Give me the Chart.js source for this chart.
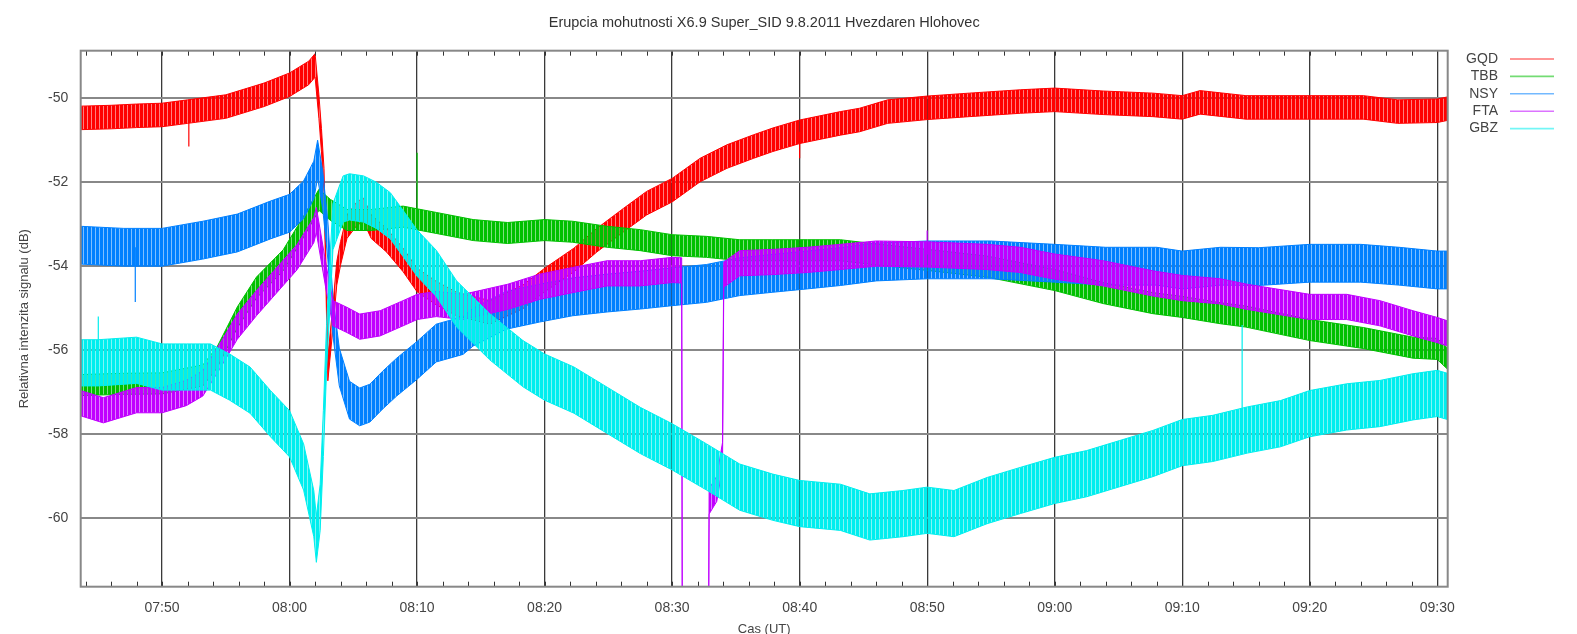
<!DOCTYPE html>
<html>
<head>
<meta charset="utf-8">
<title>Erupcia mohutnosti X6.9 Super_SID 9.8.2011</title>
<script src="https://cdn.jsdelivr.net/npm/chart.js@4.4.1/dist/chart.umd.min.js"></script>
<style>
  html, body { margin: 0; padding: 0; background: #fff; }
  #wrap { width: 1577px; height: 634px; }
</style>
</head>
<body>
<div id="wrap"><canvas id="sid" width="1577" height="634"></canvas></div>
<script>
// time = minutes after 07:00 UT, values in dB
var gqdTime = [43.6, 46, 48, 50, 52, 55, 58, 60, 61.5, 62.0, 62.3, 62.5, 62.7, 63.0, 63.4, 63.7, 64.0, 64.5, 65.3, 65.8, 66.4, 67.6, 68.9, 70.0, 71.5, 73.1, 75.7, 78.3, 80.0, 82.3, 84.1, 86.2, 88.0, 90.0, 92.2, 94.3, 96.4, 97.9, 100.0, 103.2, 104.7, 106.9, 110.0, 113.3, 117.3, 120.0, 123.8, 127.7, 130.0, 131.4, 135.0, 140.0, 144.2, 146.9, 150.0, 150.8];
var gqdDb = [-50.47, -50.45, -50.42, -50.40, -50.32, -50.2, -49.92, -49.68, -49.4, -49.22, -50.2, -51.0, -51.95, -56.45, -55.2, -54.17, -53.69, -53.06, -52.74, -52.66, -53.06, -53.38, -53.85, -54.33, -54.64, -54.9, -55.1, -54.73, -54.33, -53.85, -53.38, -52.9, -52.5, -52.19, -51.71, -51.39, -51.15, -50.99, -50.8, -50.6, -50.52, -50.32, -50.23, -50.16, -50.08, -50.04, -50.11, -50.16, -50.22, -50.1, -50.22, -50.22, -50.22, -50.32, -50.3, -50.25];

var tbbTime = [43.6, 47, 50, 53.2, 54.3, 55.9, 57.4, 59.5, 61.1, 62.3, 63.2, 64.5, 66.4, 68.9, 71.5, 74.4, 77.1, 80.0, 82.2, 84.9, 87.5, 90.0, 92.7, 95.3, 97.9, 100.6, 103.2, 106.0, 110.0, 114.7, 120.0, 123.8, 127.7, 130.0, 133.0, 135.0, 140.0, 144.2, 148.1, 150.0, 150.8];
var tbbDb = [-56.83, -56.8, -56.79, -56.6, -56.18, -55.22, -54.51, -53.86, -53.06, -52.42, -52.66, -52.9, -52.9, -52.82, -52.97, -53.14, -53.21, -53.14, -53.18, -53.3, -53.38, -53.5, -53.54, -53.62, -53.62, -53.62, -53.62, -53.72, -53.85, -54.01, -54.33, -54.64, -54.88, -54.97, -55.12, -55.2, -55.52, -55.71, -55.94, -55.97, -56.2];

var nsyTime = [43.6, 47, 50, 53.2, 55.9, 58.5, 60.0, 61.1, 61.9, 62.2, 62.6, 63.0, 63.4, 63.9, 64.7, 65.5, 66.3, 67.3, 68.4, 70.0, 71.5, 73.6, 74.4, 77.0, 79.6, 82.2, 84.9, 87.5, 90.0, 92.7, 95.3, 97.9, 100.6, 103.2, 106.0, 110.0, 115.0, 120.0, 124.0, 128.0, 130.0, 133.0, 136.0, 140.0, 144.0, 147.0, 150.0, 150.8];
var nsyDb = [-53.5, -53.55, -53.55, -53.38, -53.21, -52.9, -52.74, -52.42, -51.95, -51.45, -52.19, -53.38, -55.2, -56.4, -57.19, -57.35, -57.26, -56.95, -56.64, -56.24, -55.83, -55.65, -55.45, -55.05, -54.88, -54.73, -54.64, -54.57, -54.49, -54.41, -54.25, -54.17, -54.09, -54.01, -53.9, -53.85, -53.85, -53.93, -54.0, -54.0, -54.09, -54.0, -54.01, -53.93, -53.93, -54.0, -54.09, -54.09];

var ftaTime = [43.6, 45.4, 48.0, 50.0, 51.9, 53.2, 54.5, 55.9, 57.4, 59.0, 60.6, 61.9, 62.1, 62.9, 63.4, 64.5, 65.5, 67.1, 68.9, 70.0, 71.5, 73.6, 77.1, 79.6, 82.2, 84.9, 87.5, 90.0, 90.75, 90.8, 92.85, 92.9, 93.5, 93.95, 94.05, 95.3, 97.9, 100.6, 103.2, 106.0, 110.0, 114.7, 117.3, 120.0, 123.8, 127.7, 130.0, 133.0, 135.1, 140.0, 142.9, 145.5, 148.1, 150.0, 150.8];
var ftaDb = [-57.26, -57.43, -57.19, -57.19, -57.02, -56.79, -56.16, -55.44, -54.88, -54.33, -53.78, -53.14, -52.9, -54.33, -55.12, -55.28, -55.44, -55.36, -55.12, -54.97, -54.9, -54.97, -54.73, -54.49, -54.33, -54.17, -54.17, -54.09, -54.1, -63.5, -63.5, -59.6, -59.3, -58.5, -54.2, -53.93, -53.9, -53.85, -53.78, -53.7, -53.72, -53.78, -53.85, -54.01, -54.17, -54.41, -54.52, -54.6, -54.73, -54.97, -54.97, -55.12, -55.36, -55.52, -55.6];

var gbzTime = [43.6, 45.0, 48.0, 50.0, 51.9, 53.8, 55.3, 56.9, 58.5, 60.0, 61.1, 61.9, 62.1, 62.4, 62.65, 62.9, 63.4, 64.2, 64.7, 65.8, 66.8, 67.9, 68.9, 70.0, 71.5, 73.1, 75.7, 78.3, 80.0, 82.3, 84.9, 87.5, 90.0, 92.7, 95.3, 97.9, 100.0, 103.2, 105.5, 108.1, 110.0, 112.1, 114.7, 117.3, 120.0, 122.5, 125.1, 127.7, 130.0, 132.4, 135.1, 137.7, 140.0, 142.9, 145.5, 148.1, 150.0, 150.8];
var gbzDb = [-56.3, -56.3, -56.24, -56.4, -56.4, -56.4, -56.64, -56.95, -57.51, -57.99, -58.78, -59.89, -60.5, -59.74, -57.98, -55.94, -53.06, -52.4, -52.35, -52.4, -52.55, -52.8, -53.22, -53.69, -54.17, -54.9, -55.68, -56.32, -56.64, -56.95, -57.43, -57.91, -58.3, -58.78, -59.26, -59.5, -59.65, -59.74, -59.97, -59.89, -59.81, -59.89, -59.58, -59.34, -59.1, -58.94, -58.7, -58.46, -58.2, -58.1, -57.9, -57.75, -57.51, -57.35, -57.27, -57.11, -57.03, -57.1];

// half width of the noise band of each receiver, dB
var gqdNoise = 0.28, tbbNoise = 0.25, nsyNoise = 0.45, ftaNoise = 0.3, gbzNoise = 0.55;

// single spikes: [time, from dB, to dB]
var gqdSpikes = [[52.1, -50.35, -51.15], [100.0, -50.8, -51.43]];
var tbbSpikes = [[70.0, -52.9, -51.3]];
var nsySpikes = [[47.9, -53.55, -54.85]];
var ftaSpikes = [[110.0, -53.72, -53.15]];
var gbzSpikes = [[45.0, -56.3, -55.2], [134.7, -57.95, -55.4]];

var stations = ['GQD', 'TBB', 'NSY', 'FTA', 'GBZ'];
var colors = ['#ff0000', '#00c000', '#0080ff', '#c000ff', '#00eeee'];

var yTicks = [-60, -58, -56, -54, -52, -50];
var xMin = 43.62, xMax = 150.82, yMin = -61.63, yMax = -48.87;

var series = [
	{t: gqdTime, v: gqdDb, n: gqdNoise, s: gqdSpikes},
	{t: tbbTime, v: tbbDb, n: tbbNoise, s: tbbSpikes},
	{t: nsyTime, v: nsyDb, n: nsyNoise, s: nsySpikes},
	{t: ftaTime, v: ftaDb, n: ftaNoise, s: ftaSpikes},
	{t: gbzTime, v: gbzDb, n: gbzNoise, s: gbzSpikes}
];

function rgba(hex, a) {
	var r = parseInt(hex.substr(1, 2), 16), g = parseInt(hex.substr(3, 2), 16), b = parseInt(hex.substr(5, 2), 16);
	return 'rgba(' + r + ',' + g + ',' + b + ',' + a + ')';
}

// dense vertical hairline texture so the band reads like a noisy trace
function stripes(hex) {
	var c = document.createElement('canvas');
	c.width = 4; c.height = 1;
	var g = c.getContext('2d');
	g.fillStyle = hex; g.fillRect(0, 0, 3, 1);
	g.fillStyle = rgba(hex, 0.5); g.fillRect(3, 0, 1, 1);
	return g.createPattern(c, 'repeat');
}

function hhmm(v) {
	var h = 7 + Math.floor(v / 60), m = Math.round(v % 60);
	return (h < 10 ? '0' : '') + h + ':' + (m < 10 ? '0' : '') + m;
}

var FONT = '"Liberation Sans", Arial, sans-serif';

/* each receiver = noise band (upper line filled down to lower line) + its spikes */
var datasets = [];
series.forEach(function(sr, k) {
	var col = colors[k];
	var ord = 10 - k; // later stations are drawn on top, like gnuplot does
	datasets.push({
		label: stations[k],
		data: sr.t.map(function(t, i) { return {x: t, y: sr.v[i] + sr.n}; }),
		borderColor: col, borderWidth: 1, backgroundColor: stripes(col),
		fill: '+1', order: ord
	});
	datasets.push({
		label: stations[k] + '_low',
		data: sr.t.map(function(t, i) { return {x: t, y: sr.v[i] - sr.n}; }),
		borderColor: col, borderWidth: 1, fill: false, order: ord
	});
	var sp = [];
	sr.s.forEach(function(p) {
		sp.push({x: p[0], y: p[1]}, {x: p[0], y: p[2]}, {x: p[0], y: null});
	});
	datasets.push({
		label: stations[k] + '_spk', data: sp,
		borderColor: col, borderWidth: 1.2, fill: false, spanGaps: false, order: ord
	});
});

// inward minor ticks every 2 min, frame and the legend on the right
var decor = {
	id: 'decor',
	afterDraw: function(chart) {
		var ctx = chart.ctx, a = chart.chartArea, xs = chart.scales.x;
		ctx.save();
		ctx.strokeStyle = '#333';
		ctx.lineWidth = 1;
		ctx.beginPath();
		for (var m = 44; m <= 150; m += 2) {
			var px = Math.round(xs.getPixelForValue(m)) + 0.5;
			ctx.moveTo(px, a.top); ctx.lineTo(px, a.top + 5);
			ctx.moveTo(px, a.bottom); ctx.lineTo(px, a.bottom - 5);
		}
		ctx.stroke();
		ctx.strokeStyle = '#888';
		ctx.lineWidth = 2;
		ctx.strokeRect(a.left, a.top, a.right - a.left, a.bottom - a.top);

		ctx.font = '14px ' + FONT;
		ctx.textAlign = 'right';
		ctx.textBaseline = 'middle';
		stations.forEach(function(name, i) {
			var y = 59 + i * 17.4;
			ctx.fillStyle = '#444';
			ctx.fillText(name, 1498, y);
			ctx.strokeStyle = rgba(colors[i], 0.55);
			ctx.lineWidth = 1.6;
			ctx.beginPath(); ctx.moveTo(1510, y); ctx.lineTo(1554, y); ctx.stroke();
		});
		ctx.restore();
	}
};

var chart = new Chart(document.getElementById('sid'), {
	type: 'line',
	data: {datasets: datasets},
	options: {
		responsive: false,
		devicePixelRatio: 1,
		animation: false,
		events: [],
		layout: {padding: {left: 0, right: 129.3, top: 0, bottom: 0}},
		elements: {point: {radius: 0}, line: {tension: 0}},
		plugins: {
			legend: {display: false},
			tooltip: {enabled: false},
			title: {
				display: true, fullSize: false,
				text: 'Erupcia mohutnosti X6.9 Super_SID 9.8.2011 Hvezdaren Hlohovec',
				color: '#333', font: {family: FONT, size: 14.5, weight: 'normal'},
				padding: {top: 14, bottom: 19.3}
			},
			filler: {propagate: false}
		},
		scales: {
			x: {
				type: 'linear', min: xMin, max: xMax,
				afterFit: function(s) { s.height = 47.3; },
				ticks: {stepSize: 10, includeBounds: false, padding: 13, color: '#444', maxRotation: 0,
					font: {family: FONT, size: 14}, callback: function(v) { return hhmm(v); }},
				grid: {color: '#3a3a3a', lineWidth: 1.3, drawTicks: false},
				border: {display: false},
				title: {display: true, text: 'Cas (UT)', color: '#444', font: {family: FONT, size: 13}, padding: {top: 0, bottom: -3}}
			},
			y: {
				type: 'linear', min: yMin, max: yMax,
				afterFit: function(s) { s.width = 80.7; },
				afterBuildTicks: function(s) { s.ticks = yTicks.map(function(v) { return {value: v}; }); },
				ticks: {padding: 12.5, color: '#444', font: {family: FONT, size: 14}},
				grid: {color: '#888', lineWidth: 2, drawTicks: false},
				border: {display: false},
				title: {display: true, text: 'Relativna intenzita signalu (dB)', color: '#444', font: {family: FONT, size: 13}, padding: {top: 17, bottom: 0}}
			}
		}
	},
	plugins: [decor]
});
</script>
</body>
</html>
